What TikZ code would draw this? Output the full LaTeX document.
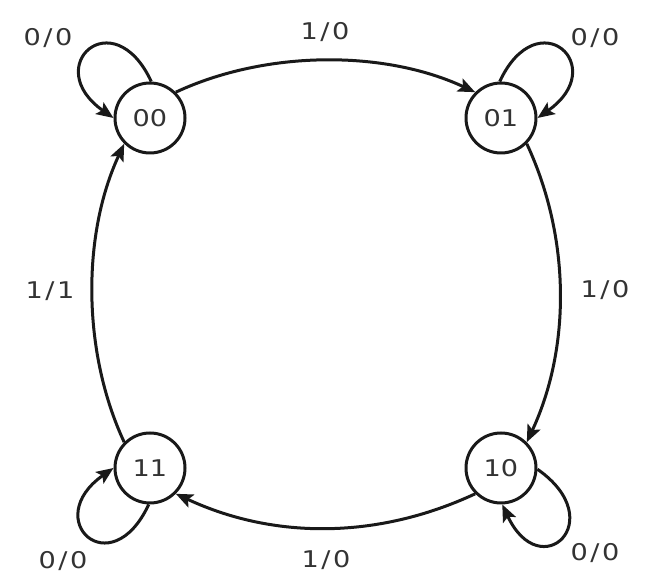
\documentclass[tikz,border=0pt]{standalone}
\usepackage{fontspec}
\setmainfont[FakeStretch=1.18]{DejaVu Sans}
\usetikzlibrary{arrows.meta}
\newcommand\io[2]{#1\kern2.5pt/\kern2.5pt#2}
\begin{document}
\begin{tikzpicture}[x=1pt,y=1pt,
  state/.style={draw=black!90,line width=3pt,circle,minimum size=70pt,inner sep=0pt,
    text=black!80,font=\fontsize{23}{27}\selectfont},
  lbl/.style={text=black!80,font=\fontsize{23}{27}\selectfont,inner sep=0pt},
  trans/.style={draw=black!90,line width=3pt,-{Stealth[length=17pt,width=14pt,inset=3.5pt]}}]
\useasboundingbox (0,0) rectangle (651,585);
\node[state] (s00) at (150,467) {00};
\node[state] (s01) at (501,467) {01};
\node[state] (s10) at (501,117) {10};
\node[state] (s11) at (150,117) {11};
% main cycle
\draw[trans] (s00.45) .. controls +(25:100) and +(155:100) .. (s01.135);
\draw[trans] (s01.-45) .. controls +(-65:104) and +(65:104) .. (s10.45);
\draw[trans] (s10.-135) .. controls +(-155:108) and +(-25:108) .. (s11.-45);
\draw[trans] (s11.135) .. controls +(115:100) and +(-115:100) .. (s00.-135);
% self loops
\draw[trans] (s00.88) .. controls +(115:90) and +(145:90) .. (s00.180);
\draw[trans] (s01.92) .. controls +(65:90) and +(35:90) .. (s01.0);
\draw[trans] (s10.-2) .. controls +(-35:90) and +(-65:90) .. (s10.-88);
\draw[trans] (s11.-92) .. controls +(-115:90) and +(-145:90) .. (s11.180);
% labels
\node[lbl] (l1) at (325,553) {\io10};
\node[lbl] (l2) at (605,295) {\io10};
\node[lbl] (l3) at (326,25) {\io10};
\node[lbl] (l4) at (50,294) {\io11};
\node[lbl] (l5) at (48,547) {\io00};
\node[lbl] (l6) at (595,547) {\io00};
\node[lbl] (l7) at (595,32) {\io00};
\node[lbl] (l8) at (63,24) {\io00};
\end{tikzpicture}
\end{document}
